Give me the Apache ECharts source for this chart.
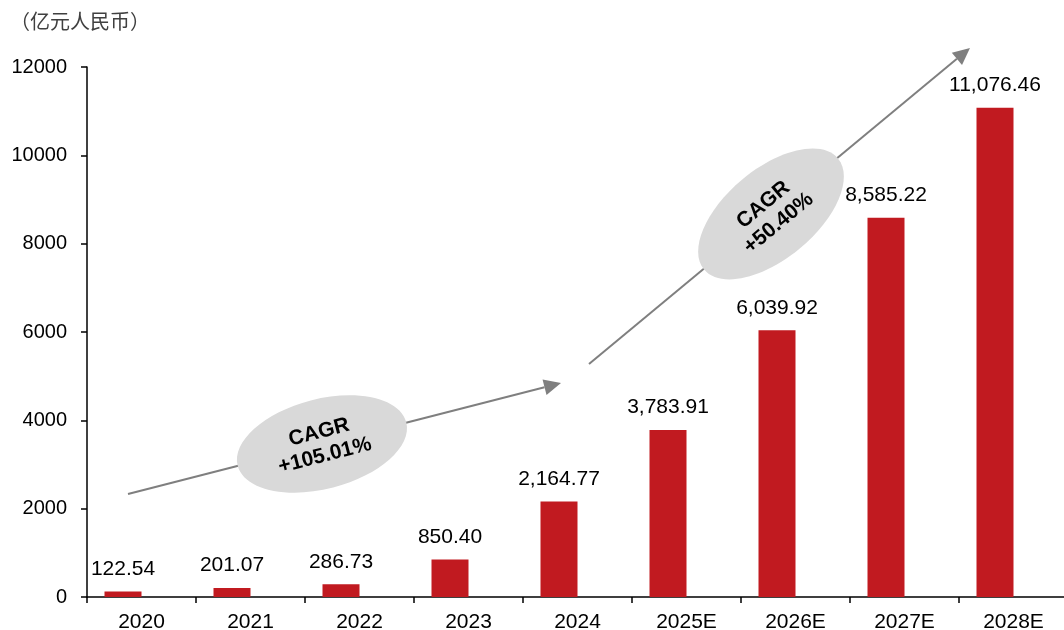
<!DOCTYPE html>
<html>
<head>
<meta charset="utf-8">
<script src="https://cdn.jsdelivr.net/npm/echarts@6/dist/echarts.min.js"></script>
<style>
html,body{margin:0;padding:0;background:#fff;}
#chart{width:1064px;height:630px;}
</style>
</head>
<body>
<div id="chart"></div>
<script>
const categories = ['2020','2021','2022','2023','2024','2025E','2026E','2027E','2028E'];
const values = [122.54, 201.07, 286.73, 850.40, 2164.77, 3783.91, 6039.92, 8585.22, 11076.46];
const yTicks = [0, 2000, 4000, 6000, 8000, 10000, 12000];
const unitLabel = '（亿元人民币）';
const cagrLabels = ['CAGR\n+105.01%', 'CAGR\n+50.40%'];

const FONT = 'Arial, "Liberation Sans", sans-serif';
const chart = echarts.init(document.getElementById('chart'));

function arrow(x1, y1, x2, y2) {
  const ang = Math.atan2(y2 - y1, x2 - x1);
  const L = 17, W = 8;
  const bx = x2 - L * Math.cos(ang), by = y2 - L * Math.sin(ang);
  const px = -Math.sin(ang), py = Math.cos(ang);
  return [
    { type: 'line', shape: { x1: x1, y1: y1, x2: bx, y2: by }, style: { stroke: '#7f7f7f', lineWidth: 2 }, z: 10 },
    { type: 'polygon', shape: { points: [[x2, y2], [bx + px * W, by + py * W], [bx - px * W, by - py * W]] }, style: { fill: '#7f7f7f' }, z: 10 }
  ];
}
function bubble(cx, cy, deg, text) {
  const r = deg * Math.PI / 180;
  return [
    { type: 'ellipse', x: cx, y: cy, rotation: r, shape: { cx: 0, cy: 0, rx: 87, ry: 45 }, style: { fill: '#d9d9d9' }, z: 20 },
    { type: 'text', x: cx, y: cy, rotation: r, style: { text: text, align: 'center', verticalAlign: 'middle', font: 'bold 21px ' + FONT, fill: '#000', lineHeight: 24 }, z: 21 }
  ];
}

chart.setOption({
  animation: false,
  grid: { left: 87, top: 67, bottom: 33, width: 981, containLabel: false, outerBoundsMode: 'none' },
  xAxis: {
    type: 'category',
    data: categories,
    axisLine: { lineStyle: { color: '#000', width: 1.5 } },
    axisTick: { show: true, length: 6, alignWithLabel: false, lineStyle: { color: '#000', width: 1.5 } },
    axisLabel: { color: '#000', fontSize: 21, fontFamily: FONT, margin: 15 }
  },
  yAxis: {
    type: 'value',
    min: yTicks[0],
    max: yTicks[yTicks.length - 1],
    interval: yTicks[1] - yTicks[0],
    splitLine: { show: false },
    axisLine: { show: true, lineStyle: { color: '#000', width: 1.5 } },
    axisTick: { show: true, length: 6, lineStyle: { color: '#000', width: 1.5 } },
    axisLabel: { color: '#000', fontSize: 20, fontFamily: FONT, margin: 20, formatter: v => String(v) }
  },
  series: [
    {
      type: 'bar',
      data: values,
      barWidth: 37,
      barGap: '0%',
      itemStyle: { color: '#C11A20' },
      label: {
        show: true, position: 'top', distance: 12, color: '#000', fontSize: 21, fontFamily: FONT,
        formatter: p => p.value.toLocaleString('en-US', { minimumFractionDigits: 2, maximumFractionDigits: 2 })
      }
    },
    {
      type: 'bar',
      data: values.map(() => '-'),
      barWidth: 37,
      barGap: '0%',
      itemStyle: { color: 'transparent' }
    }
  ],
  graphic: [
    { type: 'text', left: 10, top: 11, style: { text: unitLabel, font: '20px "Noto Sans CJK SC", sans-serif', fill: '#404040' } },
    ...arrow(128, 494, 561, 383),
    ...arrow(589, 364, 970, 48),
    ...bubble(322, 444, 14.4, cagrLabels[0]),
    ...bubble(771, 214, 39.7, cagrLabels[1])
  ]
});
</script>
</body>
</html>
